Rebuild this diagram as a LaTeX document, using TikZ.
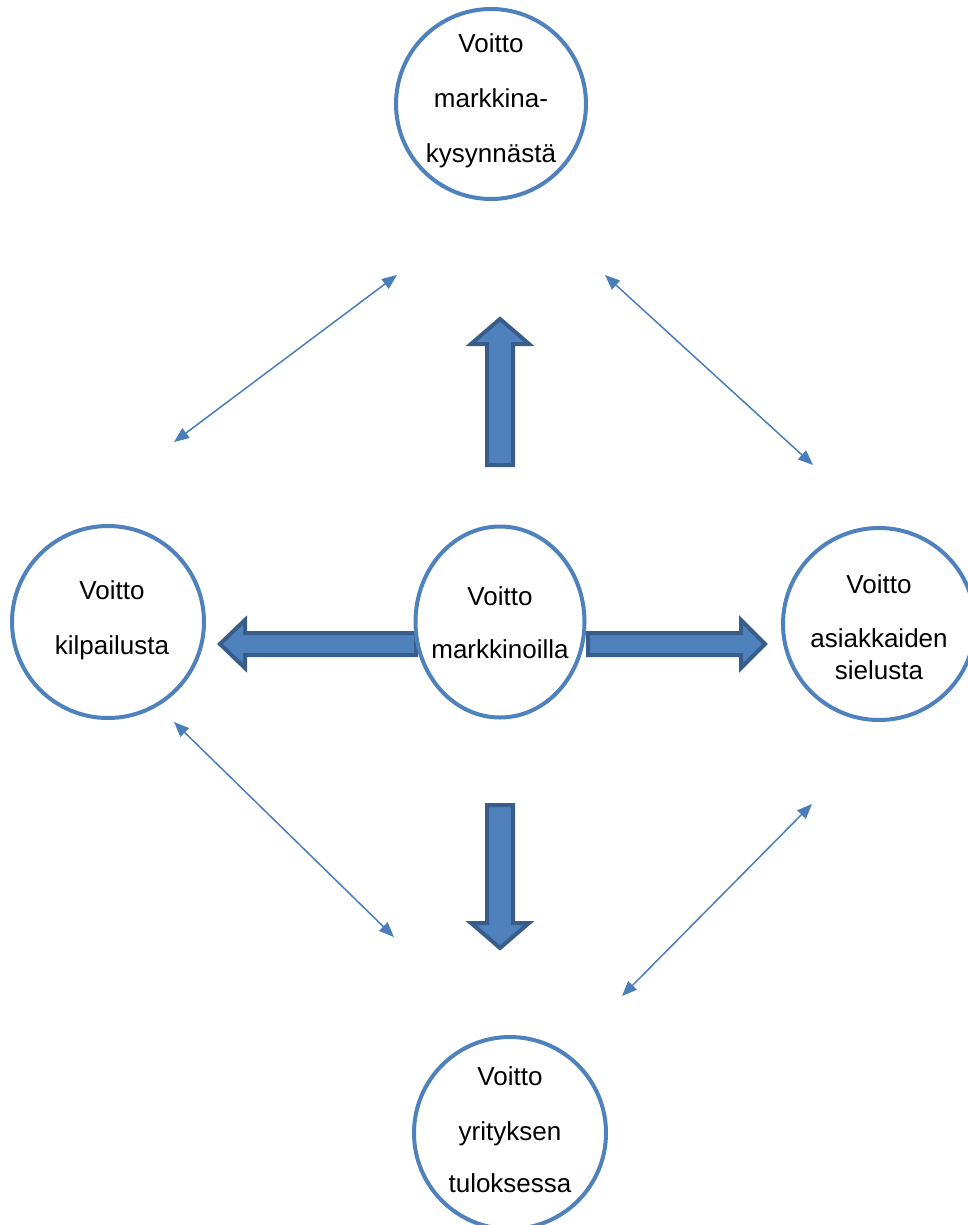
\documentclass[tikz,border=0pt]{standalone}
\usepackage{fontspec}
\setmainfont{Liberation Sans}
\usetikzlibrary{shapes.geometric, arrows.meta}

\definecolor{ringblue}{HTML}{4F81BD}
\definecolor{arrowedge}{HTML}{385D8A}
\definecolor{linkblue}{HTML}{4A7EBB}

\tikzset{
  bubble/.style={circle, draw=ringblue, fill=white, line width=4pt, inner sep=0pt, minimum size=192pt},
  label text/.style={align=center, font=\fontsize{26}{32}\selectfont},
  blockarrow/.style={fill=ringblue, draw=arrowedge, line width=4pt, line join=miter},
  link/.style={draw=linkblue, line width=1.5pt, {Triangle[length=15pt,width=12pt]}-{Triangle[length=15pt,width=12pt]}}
}

\begin{document}
\begin{tikzpicture}[x=1pt, y=-1pt]
\useasboundingbox (0,0) rectangle (967,1225);

% Block arrows out of the centre
\draw[blockarrow] (220,644) -- (245,620) -- (245,633) -- (416,633) -- (416,655) -- (245,655) -- (245,668) -- cycle;
\draw[blockarrow] (765,644) -- (741,620) -- (741,633) -- (588,633) -- (588,655) -- (741,655) -- (741,668) -- cycle;
\draw[blockarrow] (500,319) -- (471,344) -- (487,344) -- (487,465) -- (513,465) -- (513,344) -- (529,344) -- cycle;
\draw[blockarrow] (500,948) -- (471,923) -- (487,923) -- (487,805) -- (513,805) -- (513,923) -- (529,923) -- cycle;

% Circles
\node at (491,104) [bubble, minimum size=190pt] (markt) {};
\node at (108,622) [bubble] (kilp) {};
\node at (500,622) [ellipse, draw=ringblue, fill=white, line width=4pt, inner sep=0pt, minimum width=169pt, minimum height=191pt] (mid) {};
\node at (879,624) [bubble] (asiak) {};
\node at (510,1133) [bubble] (tulos) {};

% Texts
\node at (491,101) [label text] (marktT) {Voitto\\[23pt]markkina-\\[23pt]kysynnästä};
\node at (112,620) [label text] (kilpT) {Voitto\\[23pt]kilpailusta};
\node at (500,623) [label text] (midT) {Voitto\\[21pt]markkinoilla};
\node at (879,627) [label text] (asiakT) {Voitto\\[22pt]asiakkaiden\\sielusta};
\node at (510,1130) [label text] (tulosT) {Voitto\\[23pt]yrityksen\\[20pt]tuloksessa};

% Thin double arrows
\coordinate (a1) at (174,442);
\coordinate (a2) at (397,275);
\coordinate (b1) at (605,275);
\coordinate (b2) at (813,465);
\coordinate (c1) at (174,722);
\coordinate (c2) at (394,937);
\coordinate (d1) at (812,804);
\coordinate (d2) at (622,996);
\draw[link] (a1) -- (a2);
\draw[link] (b1) -- (b2);
\draw[link] (c1) -- (c2);
\draw[link] (d1) -- (d2);

\end{tikzpicture}
\end{document}
